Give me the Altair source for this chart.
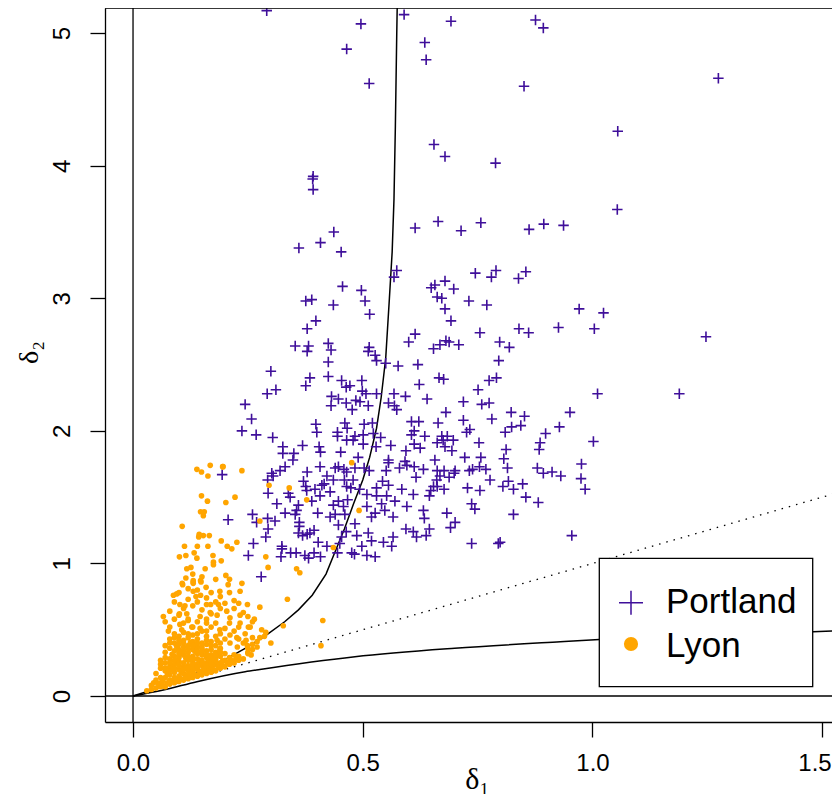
import altair as alt
import pandas as pd

# ---------------- data ----------------
portland = [
    (0.291,5.17),(0.496,5.07),(0.465,4.88),(0.514,4.62),(0.392,3.92),(0.391,3.90),(0.392,3.82),
    (0.590,5.14),(0.692,5.09),(0.635,4.93),(0.638,4.80),(0.655,4.16),(0.679,4.07),
    (0.876,5.10),(0.893,5.04),(0.851,4.60),(1.274,4.66),(1.055,4.26),(0.789,4.02),(1.054,3.67),
    (0.614,3.53),(0.664,3.58),(0.437,3.50),(0.408,3.42),(0.361,3.38),(0.453,3.35),(0.574,3.21),
    (0.568,3.16),(0.456,3.09),(0.497,3.06),(0.505,2.98),(0.515,2.88),(0.376,2.98),(0.389,2.99),
    (0.436,2.95),(0.398,2.83),(0.379,2.77),(0.649,3.08),(0.657,3.10),(0.662,3.01),(0.614,2.73),
    (0.600,2.67),(0.654,2.62),(0.353,2.64),(0.382,2.64),(0.379,2.60),(0.425,2.66),(0.431,2.61),
    (0.514,2.63),(0.512,2.60),(0.527,2.57),(0.530,2.53),(0.550,2.51),(0.577,2.49),(0.620,2.50),
    (0.425,2.52),(0.300,2.45),(0.425,2.41),(0.385,2.40),(0.376,2.34),(0.311,2.31),(0.292,2.28),
    (0.454,2.38),(0.472,2.34),(0.464,2.33),(0.498,2.38),(0.499,2.30),(0.507,2.28),(0.530,2.28),
    (0.432,2.26),(0.568,2.28),(0.623,2.35),(0.593,2.26),(0.640,2.24),(0.666,2.40),
    (0.757,3.57),(0.714,3.51),(0.862,3.52),(0.894,3.56),(0.937,3.55),(0.745,3.19),(0.790,3.21),
    (0.780,3.16),(0.839,3.15),(0.855,3.20),(0.679,3.13),(0.698,3.07),(0.672,3.00),(0.679,2.92),
    (0.731,2.98),(0.770,2.95),(0.692,2.83),(0.755,2.74),(0.840,2.77),(0.861,2.74),(0.926,2.78),
    (0.971,2.92),(1.024,2.89),(1.004,2.77),(0.668,2.65),(0.681,2.68),(0.688,2.67),(0.709,2.65),
    (0.798,2.67),(0.819,2.63),(0.796,2.53),(0.676,2.39),(0.791,2.40),(0.775,2.38),(0.751,2.31),
    (1.011,2.28),(1.189,2.28),(1.247,2.71),
    (0.447,2.24),(0.431,2.19),(0.464,2.21),(0.485,2.23),(0.494,2.22),(0.512,2.19),(0.556,2.21),
    (0.569,2.19),(0.574,2.16),(0.244,2.20),(0.477,2.16),(0.258,2.09),(0.237,2.00),(0.268,1.97),
    (0.304,1.95),(0.398,2.05),(0.400,1.99),(0.461,2.06),(0.466,2.02),(0.445,1.99),(0.445,1.96),
    (0.483,1.96),(0.465,1.93),(0.479,1.93),(0.503,2.05),(0.521,2.06),(0.523,1.98),(0.501,1.97),
    (0.539,1.95),(0.501,1.90),(0.606,2.07),(0.622,2.07),(0.664,2.06),(0.612,2.00),(0.606,1.97),
    (0.635,1.96),(0.662,1.91),(0.561,1.89),(0.612,1.90),(0.625,1.87),(0.594,1.85),(0.529,1.88),
    (0.326,1.88),(0.326,1.83),(0.350,1.83),(0.369,1.89),(0.405,1.88),(0.408,1.84),(0.452,1.84),
    (0.348,1.78),(0.490,1.80),(0.556,1.78),(0.556,1.76),(0.592,1.77),(0.596,1.74),(0.657,1.78),
    (0.580,1.72),(0.612,1.73),(0.632,1.71),(0.331,1.73),(0.407,1.73),(0.440,1.72),(0.447,1.73),
    (0.459,1.71),(0.483,1.72),(0.503,1.72),(0.514,1.70),(0.465,1.69),(0.551,1.70),(0.379,1.69),
    (0.302,1.68),(0.320,1.70),(0.305,1.66),(0.422,1.66),(0.616,1.65),(0.293,1.63),(0.371,1.62),
    (0.436,1.63),(0.460,1.63),(0.479,1.63),(0.416,1.60),(0.543,1.62),(0.556,1.59),(0.530,1.57),
    (0.465,1.58),(0.474,1.57),(0.493,1.56),(0.376,1.58),(0.396,1.56),(0.411,1.59),(0.429,1.54),
    (0.378,1.55),(0.294,1.53),(0.338,1.53),(0.585,1.56),(0.654,1.58),(0.648,1.55),(0.610,1.52),
    (0.645,1.51),(0.342,1.50),(0.389,1.47),(0.407,1.51),(0.509,1.52),(0.530,1.51),(0.552,1.51),
    (0.467,1.48),(0.447,1.47),(0.436,1.44),(0.458,1.43),(0.541,1.45),(0.570,1.47),(0.596,1.43),
    (0.509,1.43),(0.313,1.45),(0.360,1.44),(0.356,1.40),(0.331,1.38),(0.353,1.37),(0.402,1.38),
    (0.429,1.35),(0.440,1.37),(0.461,1.37),(0.548,1.40),(0.527,1.38),(0.519,1.35),(0.566,1.35),
    (0.632,1.40),(0.634,1.34),(0.260,1.37),(0.293,1.34),(0.309,1.32),(0.207,1.33),(0.362,1.31),
    (0.483,1.30),(0.447,1.29),(0.362,1.28),(0.294,1.26),(0.594,1.26),(0.610,1.24),(0.645,1.26),
    (0.360,1.23),(0.379,1.22),(0.394,1.25),(0.464,1.24),(0.289,1.20),(0.369,1.21),(0.385,1.23),
    (0.487,1.21),(0.512,1.23),(0.566,1.20),(0.617,1.20),(0.638,1.21),(0.454,1.20),(0.519,1.17),
    (0.262,1.15),(0.403,1.16),(0.422,1.13),(0.450,1.15),(0.498,1.13),(0.545,1.16),(0.563,1.13),
    (0.324,1.13),(0.324,1.11),(0.251,1.06),(0.322,1.05),(0.343,1.08),(0.355,1.08),(0.374,1.06),
    (0.382,1.04),(0.394,1.08),(0.408,1.05),(0.445,1.08),(0.476,1.08),(0.482,1.07),(0.509,1.06),
    (0.527,1.05),(0.279,0.90),
    (0.719,2.22),(0.759,2.20),(0.775,2.21),(0.681,2.14),(0.823,2.14),(0.852,2.11),(0.951,2.14),
    (0.719,2.08),(0.781,2.09),(0.726,1.99),(0.733,2.01),(0.810,1.99),(0.824,2.03),(0.844,2.04),
    (0.898,1.98),(0.928,2.03),(1.002,1.92),(0.672,1.96),(0.684,1.96),(0.675,1.93),(0.697,1.93),
    (0.679,1.88),(0.694,1.85),(0.753,1.91),(0.886,1.91),(0.884,1.86),(0.812,1.86),(0.722,1.80),
    (0.757,1.80),(0.807,1.79),(0.976,1.75),(0.662,1.70),(0.677,1.70),(0.668,1.66),(0.688,1.65),
    (0.701,1.70),(0.699,1.68),(0.732,1.70),(0.739,1.71),(0.754,1.73),(0.768,1.71),(0.815,1.72),
    (0.880,1.72),(0.893,1.68),(0.912,1.69),(0.931,1.66),(0.975,1.64),(0.661,1.63),(0.777,1.63),
    (0.817,1.62),(0.662,1.58),(0.677,1.56),(0.728,1.57),(0.755,1.55),(0.805,1.58),(0.828,1.56),
    (0.848,1.60),(0.984,1.56),(0.855,1.50),(0.882,1.46),(0.737,1.45),(0.744,1.41),(0.683,1.38),
    (0.828,1.37),(0.701,1.31),(0.691,1.27),(0.955,1.21),(0.737,1.15),(0.795,1.15),(0.799,1.16),
    (0.194,1.67),(0.269,1.31),
]

lyon = [
    (0.476,1.76),(0.196,1.73),(0.237,1.70),(0.296,1.59),(0.340,1.57),(0.222,1.50),(0.202,1.46),
    (0.378,1.48),(0.492,1.40),(0.276,1.32),(0.192,1.17),(0.205,1.13),(0.215,1.11),(0.226,1.16),
    (0.192,1.02),(0.289,1.05),(0.294,0.97),(0.436,1.12),(0.356,0.96),(0.363,0.93),(0.202,0.91),
    (0.210,0.88),
    (0.139,1.71),(0.149,1.69),(0.168,1.74),(0.163,1.66),(0.195,1.73),(0.149,1.51),(0.162,1.47),
    (0.147,1.39),(0.155,1.39),(0.153,1.36),(0.107,1.28),(0.144,1.22),(0.153,1.21),(0.143,1.20),
    (0.166,1.21),(0.112,1.13),(0.140,1.13),(0.163,1.13),(0.101,1.05),(0.115,1.06),(0.133,1.08),
    (0.139,1.04),(0.174,1.06),(0.117,0.96),(0.126,0.97),(0.157,0.96),(0.175,1.01),(0.175,0.99),
    (0.115,0.89),(0.131,0.87),(0.147,0.87),(0.107,0.85),(0.131,0.85),(0.237,0.85),
    (0.108,0.84),(0.131,0.86),(0.148,0.86),(0.159,0.82),(0.088,0.76),(0.095,0.77),(0.131,0.79),
    (0.137,0.75),(0.147,0.76),(0.189,0.79),(0.207,0.84),(0.233,0.79),(0.102,0.69),(0.113,0.68),
    (0.169,0.69),(0.186,0.69),(0.249,0.69),(0.066,0.60),(0.101,0.62),(0.117,0.62),(0.120,0.57),
    (0.146,0.60),(0.168,0.63),(0.183,0.61),(0.204,0.64),(0.211,0.59),(0.233,0.61),(0.233,0.55),
    (0.255,0.52),(0.102,0.54),(0.106,0.50),(0.128,0.52),(0.146,0.51),(0.160,0.55),(0.077,0.49),
    (0.189,0.50),(0.211,0.46),(0.226,0.44),(0.244,0.47),(0.211,0.40),(0.227,0.37),(0.249,0.38),
    (0.183,0.42),(0.189,0.35),(0.178,0.30),
    (0.336,0.73),(0.276,0.67),(0.413,0.57),(0.264,0.58),(0.251,0.52),(0.327,0.53),(0.289,0.48),
    (0.286,0.45),(0.276,0.44),(0.300,0.40),(0.260,0.39),(0.409,0.38),(0.250,0.32),(0.257,0.31),
    (0.246,0.42),
    (0.04,0.08),(0.05,0.12),(0.05,0.17),(0.06,0.10),(0.06,0.21),(0.06,0.27),(0.07,0.07),
    (0.07,0.14),(0.07,0.19),(0.07,0.25),(0.07,0.33),(0.08,0.09),(0.08,0.12),(0.08,0.16),
    (0.08,0.22),(0.08,0.28),(0.08,0.36),(0.08,0.43),(0.09,0.10),(0.09,0.14),(0.09,0.18),
    (0.09,0.24),(0.09,0.30),(0.09,0.34),(0.09,0.40),(0.09,0.47),(0.10,0.11),(0.10,0.15),
    (0.10,0.20),(0.10,0.26),(0.10,0.29),(0.10,0.35),(0.10,0.39),(0.10,0.45),(0.11,0.12),
    (0.11,0.17),(0.11,0.22),(0.11,0.25),(0.11,0.31),(0.11,0.37),(0.11,0.42),(0.11,0.48),
    (0.12,0.13),(0.12,0.16),(0.12,0.19),(0.12,0.23),(0.12,0.27),(0.12,0.33),(0.12,0.38),
    (0.12,0.44),(0.13,0.14),(0.13,0.18),(0.13,0.21),(0.13,0.26),(0.13,0.30),(0.13,0.35),
    (0.13,0.41),(0.13,0.46),(0.14,0.15),(0.14,0.20),(0.14,0.24),(0.14,0.28),(0.14,0.32),
    (0.14,0.37),(0.14,0.43),(0.15,0.16),(0.15,0.19),(0.15,0.23),(0.15,0.27),(0.15,0.31),
    (0.15,0.36),(0.15,0.40),(0.16,0.17),(0.16,0.21),(0.16,0.25),(0.16,0.29),(0.16,0.34),
    (0.16,0.39),(0.16,0.45),(0.17,0.18),(0.17,0.22),(0.17,0.26),(0.17,0.31),(0.17,0.35),
    (0.17,0.41),(0.18,0.19),(0.18,0.24),(0.18,0.28),(0.18,0.33),(0.18,0.38),(0.19,0.21),
    (0.19,0.25),(0.19,0.30),(0.19,0.36),(0.20,0.22),(0.20,0.27),(0.20,0.32),(0.21,0.24),
    (0.21,0.29),(0.22,0.25),(0.22,0.31),(0.23,0.27),(0.24,0.28),(0.05,0.06),(0.06,0.07),
    (0.03,0.04),(0.04,0.05),(0.065,0.115),(0.075,0.165),(0.085,0.205),(0.095,0.265),
    (0.105,0.325),(0.115,0.285),(0.125,0.215),(0.135,0.335),(0.145,0.265),(0.155,0.205),
    (0.165,0.275),(0.175,0.235),(0.185,0.315),(0.195,0.265),(0.105,0.175),(0.115,0.145),
    (0.125,0.405),(0.135,0.385),(0.095,0.375),(0.085,0.315),
    (0.08,0.64),(0.09,0.71),(0.10,0.78),(0.11,0.66),(0.12,0.73),(0.12,0.81),(0.13,0.68),
    (0.13,0.92),(0.14,0.71),(0.14,0.80),(0.15,0.65),(0.15,0.90),(0.16,0.74),(0.16,0.69),
    (0.17,0.78),(0.17,0.62),(0.18,0.71),(0.18,0.88),(0.19,0.66),(0.19,0.75),(0.20,0.70),
    (0.21,0.78),(0.22,0.66),(0.22,0.72),(0.23,0.70),(0.24,0.63),(0.25,0.60),(0.26,0.56),
    (0.07,0.56),(0.08,0.52),(0.09,0.58),(0.10,0.61),(0.11,0.55),(0.12,0.58),(0.13,0.52),
    (0.14,0.56),(0.15,0.49),(0.16,0.58),(0.17,0.52),(0.18,0.55),(0.19,0.47),(0.20,0.51),
    (0.21,0.55),(0.22,0.49),(0.23,0.43),(0.24,0.40),(0.25,0.36),(0.26,0.44),(0.27,0.41),
    (0.28,0.50),(0.23,0.52),(0.20,0.43),(0.19,0.40),
    (0.045,0.10),(0.055,0.09),(0.065,0.08),(0.075,0.10),(0.085,0.11),(0.095,0.12),(0.105,0.13),
    (0.115,0.14),(0.125,0.15),(0.135,0.16),(0.145,0.17),(0.155,0.18),(0.165,0.19),(0.175,0.20),
    (0.185,0.22),(0.195,0.23),(0.205,0.25),(0.215,0.27),(0.225,0.28),(0.06,0.14),(0.07,0.21),
    (0.08,0.19),(0.09,0.21),(0.10,0.23),(0.11,0.20),(0.12,0.21),(0.13,0.24),(0.14,0.22),
    (0.15,0.25),(0.16,0.23),(0.17,0.24),(0.18,0.26),(0.09,0.27),(0.10,0.32),(0.11,0.34),
    (0.12,0.30),(0.13,0.28),(0.14,0.34),(0.15,0.33),(0.16,0.31),(0.17,0.29),(0.18,0.31),
    (0.19,0.33),(0.12,0.36),(0.13,0.38),(0.14,0.40),(0.15,0.38),(0.16,0.42),(0.17,0.38),
    (0.11,0.40),(0.10,0.42),(0.12,0.47),(0.14,0.47),(0.16,0.49),(0.18,0.45),(0.07,0.29),
    (0.06,0.24),(0.08,0.25),(0.07,0.38),(0.08,0.40),(0.09,0.44),
    (0.23,0.30),(0.25,0.33),(0.26,0.35),(0.27,0.37),(0.21,0.26),
]

upper_curve_x = [0, 0.05, 0.10, 0.15, 0.20, 0.25, 0.29, 0.33, 0.36, 0.39, 0.42, 0.44, 0.46,
                 0.48, 0.50, 0.515, 0.53, 0.54, 0.55, 0.558, 0.564, 0.568, 0.571, 0.574, 0.576]
upper_curve_y = [0, 0.056, 0.12, 0.19, 0.275, 0.37, 0.46, 0.56, 0.65, 0.76, 0.92, 1.09, 1.26,
                 1.45, 1.63, 1.80, 2.02, 2.25, 2.55, 3.0, 3.35, 3.75, 4.3, 5.0, 5.4]
lower_curve_x = [0, 0.066, 0.139, 0.244, 0.276, 0.483, 0.70, 0.93, 1.015, 1.48, 1.60]
lower_curve_y = [0, 0.045, 0.108, 0.183, 0.200, 0.296, 0.36, 0.41, 0.427, 0.485, 0.50]
diag_x = [0, 1.6]
diag_y = [0, 1.6]

legend_labels = ["Portland", "Lyon"]

PORTLAND_COL = "#3F0F9A"
LYON_COL = "#FFA500"

# plot area: page x 105..832 (svg may not exceed the 840px window), y 8..722
W, H = 727, 714
XDOM = [-0.061, 1.5213]
YDOM = [-0.196, 5.19]

xs = alt.Scale(domain=XDOM, nice=False, zero=False)
ys = alt.Scale(domain=YDOM, nice=False, zero=False)

x_axis = alt.Axis(values=[0, 0.5, 1.0, 1.5], format=".1f", title="δ₁", grid=False,
                  tickSize=15, tickWidth=1.3, tickColor="black", domainColor="black",
                  domainWidth=1.3, labelFontSize=24, labelFont="Liberation Sans",
                  labelColor="black", labelBaseline="alphabetic", labelPadding=33,
                  labelOverlap=False, labelBound=False, labelFlush=False,
                  labelAlign=alt.ExprRef(expr="datum.value == 1.5 ? 'right' : 'center'"),
                  labelOffset=alt.ExprRef(expr="datum.value == 1.5 ? 9 : 0"),
                  titleFont="Liberation Serif", titleFontSize=30, titleFontWeight="normal",
                  titleColor="black", titleX=372, titleY=66, titleBaseline="alphabetic",
                  titleAlign="center")
y_axis = alt.Axis(values=[0, 1, 2, 3, 4, 5], format="d", title="δ₂", grid=False,
                  tickSize=15, tickWidth=1.3, tickColor="black", domainColor="black",
                  domainWidth=1.3, labelFontSize=24, labelFont="Liberation Sans",
                  labelColor="black", labelAngle=270, labelAlign="center",
                  labelBaseline="alphabetic", labelPadding=21,
                  titleFont="Liberation Serif", titleFontSize=28, titleFontWeight="normal",
                  titleColor="black", titleX=-68, titleY=344, titleAngle=270,
                  titleBaseline="alphabetic", titleAlign="center")

pdf = pd.DataFrame(portland, columns=["x", "y"])
ldf = pd.DataFrame(lyon, columns=["x", "y"])
updf = pd.DataFrame({"x": upper_curve_x, "y": upper_curve_y, "o": range(len(upper_curve_x))})
lodf = pd.DataFrame({"x": lower_curve_x, "y": lower_curve_y, "o": range(len(lower_curve_x))})
didf = pd.DataFrame({"x": diag_x, "y": diag_y})
zero = pd.DataFrame({"v": [0]})

base_axes = alt.Chart(pdf).mark_point(opacity=0).encode(
    x=alt.X("x:Q", scale=xs, axis=x_axis),
    y=alt.Y("y:Q", scale=ys, axis=y_axis),
)

vline = alt.Chart(zero).mark_rule(color="black", strokeWidth=1.3).encode(
    x=alt.X("v:Q", scale=xs))
hline = alt.Chart(zero).mark_rule(color="black", strokeWidth=1.3).encode(
    y=alt.Y("v:Q", scale=ys))

upper = alt.Chart(updf).mark_line(color="black", strokeWidth=1.5, clip=True).encode(
    x=alt.X("x:Q", scale=xs), y=alt.Y("y:Q", scale=ys), order="o:Q")
lower = alt.Chart(lodf).mark_line(color="black", strokeWidth=1.5, clip=True,
                                  interpolate="monotone").encode(
    x=alt.X("x:Q", scale=xs), y=alt.Y("y:Q", scale=ys), order="o:Q")
diag = alt.Chart(didf).mark_line(color="black", strokeWidth=1.3, strokeDash=[1.5, 6],
                                 clip=True).encode(
    x=alt.X("x:Q", scale=xs), y=alt.Y("y:Q", scale=ys))

plus_path = "M-1,0H1M0,-1V1"
port = alt.Chart(pdf).mark_point(shape=plus_path, filled=False, size=110, strokeWidth=1.6,
                                 color=PORTLAND_COL, opacity=1, clip=True).encode(
    x=alt.X("x:Q", scale=xs), y=alt.Y("y:Q", scale=ys))
lyo = alt.Chart(ldf).mark_circle(size=32, color=LYON_COL, opacity=1, clip=True).encode(
    x=alt.X("x:Q", scale=xs), y=alt.Y("y:Q", scale=ys))

top_border = alt.Chart(zero).mark_rule(color="black", strokeWidth=1.3).encode(
    x=alt.value(0), x2=alt.value(W), y=alt.value(0))

# legend (drawn by hand)
one = pd.DataFrame({"k": [0]})
leg_box = alt.Chart(one).mark_rect(fill="white", stroke="black", strokeWidth=1.3).encode(
    x=alt.value(494.3), x2=alt.value(707.7), y=alt.value(550.3), y2=alt.value(678.7))
leg_df = pd.DataFrame({"label": legend_labels})
leg_plus = alt.Chart(leg_df.iloc[[0]]).mark_point(
    shape=plus_path, filled=False, size=576, strokeWidth=1.5, color=PORTLAND_COL,
    opacity=1).encode(x=alt.value(526), y=alt.value(594.7))
leg_dot = alt.Chart(leg_df.iloc[[1]]).mark_circle(size=201, color=LYON_COL, opacity=1).encode(
    x=alt.value(526), y=alt.value(636))
leg_t1 = alt.Chart(leg_df.iloc[[0]]).mark_text(
    align="left", baseline="alphabetic", font="Liberation Sans", fontSize=35,
    color="black").encode(x=alt.value(561), y=alt.value(605.3), text="label:N")
leg_t2 = alt.Chart(leg_df.iloc[[1]]).mark_text(
    align="left", baseline="alphabetic", font="Liberation Sans", fontSize=35,
    color="black").encode(x=alt.value(561), y=alt.value(648.7), text="label:N")

chart = alt.layer(
    base_axes, vline, hline, upper, lower, diag, port, lyo, top_border,
    leg_box, leg_plus, leg_dot, leg_t1, leg_t2
).properties(
    width=W, height=H,
    autosize=alt.AutoSizeParams(type="none"),
    padding={"left": 97, "top": 0, "right": 0, "bottom": 72},
).configure_view(stroke=None).configure(background="white")

chart.save("out.html", embed_options={"renderer": "svg", "actions": False})
